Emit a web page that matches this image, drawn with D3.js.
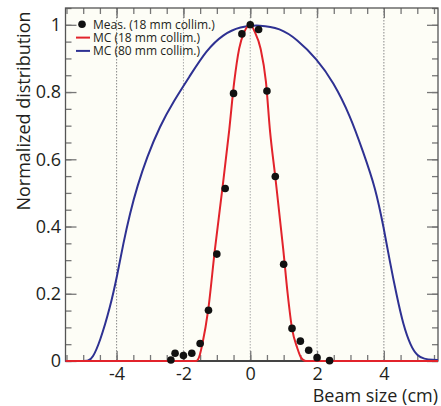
<!DOCTYPE html>
<html><head><meta charset="utf-8">
<script src="https://cdn.jsdelivr.net/npm/d3@7"></script>
<style>body{margin:0;background:#fff} svg{display:block}</style>
</head><body>
<svg id="c" width="441" height="406"></svg>
<script>
// Measured points (18 mm collimator)
const measX = [-2.375, -2.25, -2, -1.75, -1.5, -1.25, -1, -0.75, -0.5, -0.25, 0, 0.25, 0.5, 0.75, 1, 1.25, 1.5, 1.75, 2, 2.375];
const measY = [0.003, 0.023, 0.016, 0.023, 0.052, 0.151, 0.318, 0.513, 0.796, 0.973, 1.0, 0.986, 0.803, 0.549, 0.288, 0.097, 0.059, 0.032, 0.01, 0.001];
// MC 18 mm collimator (red)
const mc18X = [-5.53, -1.62, -1.52, -1.43, -1.26, -1.06, -0.85, -0.63, -0.48, -0.33, -0.18, 0, 0.14, 0.31, 0.47, 0.59, 0.75, 0.99, 1.12, 1.25, 1.41, 1.52, 1.66, 5.62];
const mc18Y = [0, 0, 0.015, 0.052, 0.151, 0.33, 0.5, 0.686, 0.83, 0.93, 0.978, 1.0, 0.978, 0.929, 0.83, 0.686, 0.547, 0.33, 0.2, 0.097, 0.038, 0.01, 0, 0];
// MC 80 mm collimator (blue)
const mc80X = [-5.53, -5.0, -4.85, -4.72, -4.5, -4.2, -3.98, -3.8, -3.6, -3.38, -3.1, -2.7, -2.3, -1.8, -1.31, -0.81, -0.31, 0.29, 0.89, 1.39, 1.99, 2.49, 2.99, 3.38, 3.75, 4.0, 4.18, 4.38, 4.58, 4.8, 5.0, 5.2, 5.48, 5.62];
const mc80Y = [0, 0, 0, 0.008, 0.057, 0.157, 0.255, 0.35, 0.44, 0.52, 0.605, 0.70, 0.772, 0.849, 0.925, 0.972, 0.995, 1.0, 0.99, 0.958, 0.899, 0.83, 0.73, 0.622, 0.515, 0.394, 0.295, 0.196, 0.107, 0.045, 0.015, 0.006, 0.003, 0.003];
// Ticks
const xTicks = [-4, -2, 0, 2, 4];
const xTickLabels = ["-4", "-2", "0", "2", "4"];
const yTicks = [0, 0.2, 0.4, 0.6, 0.8, 1];
const yTickLabels = ["0", "0.2", "0.4", "0.6", "0.8", "1"];
const legendLabels = ["Meas. (18 mm collim.)", "MC (18 mm collim.)", "MC (80 mm collim.)"];

const RED = "#e2232b", BLUE = "#2e3192", TXT = "#231f20";
const m = {l: 65.5, r: 438, t: 8, b: 361};
const svg = d3.select("#c");
const x = d3.scaleLinear().domain([-5.53, 5.62]).range([m.l, m.r]);
const y = d3.scaleLinear().domain([0, 1.05]).range([m.b, m.t]);
const font = "'Open Sans', sans-serif";

svg.append("rect").attr("x", m.l).attr("y", m.t).attr("width", m.r - m.l).attr("height", m.b - m.t).attr("fill", "#fdfdf6");

// grid
svg.append("g").selectAll("line").data(xTicks).join("line")
  .attr("x1", d => x(d)).attr("x2", d => x(d)).attr("y1", m.t).attr("y2", m.b)
  .attr("stroke", d => Math.abs(d) === 4 ? "#888" : "#aaa").attr("stroke-width", 1).attr("stroke-dasharray", "1.5,1.5");

const minorX = d3.range(-5.5, 5.51, 0.5);
const minorY = d3.range(0, 1.051, 0.05);
function styleAxis(g) {
  g.select(".domain").remove();
  g.selectAll(".tick line").attr("stroke", "#777").attr("stroke-width", 1.3);
  g.selectAll("text").attr("fill", TXT).style("font-family", font).style("font-size", "18px");
}
// bottom
svg.append("g").attr("transform", `translate(0,${m.b})`).call(d3.axisBottom(x).tickValues(minorX).tickSize(-6).tickFormat("")).call(styleAxis);
svg.append("g").attr("transform", `translate(0,${m.b})`).call(d3.axisBottom(x).tickValues(xTicks).tickSize(-10).tickPadding(6).tickFormat((d, i) => xTickLabels[i])).call(styleAxis);
// top
svg.append("g").attr("transform", `translate(0,${m.t})`).call(d3.axisTop(x).tickValues(minorX).tickSize(-6).tickFormat("")).call(styleAxis);
svg.append("g").attr("transform", `translate(0,${m.t})`).call(d3.axisTop(x).tickValues(xTicks).tickSize(-10).tickFormat("")).call(styleAxis);
// left
svg.append("g").attr("transform", `translate(${m.l},0)`).call(d3.axisLeft(y).tickValues(minorY).tickSize(-6).tickFormat("")).call(styleAxis);
svg.append("g").attr("transform", `translate(${m.l},0)`).call(d3.axisLeft(y).tickValues(yTicks).tickSize(-11).tickPadding(4.5).tickFormat((d, i) => yTickLabels[i])).call(styleAxis);
// right
svg.append("g").attr("transform", `translate(${m.r},0)`).call(d3.axisRight(y).tickValues(minorY).tickSize(-6).tickFormat("")).call(styleAxis);
svg.append("g").attr("transform", `translate(${m.r},0)`).call(d3.axisRight(y).tickValues(yTicks).tickSize(-11).tickFormat("")).call(styleAxis);

// frame
svg.append("rect").attr("x", m.l).attr("y", m.t).attr("width", m.r - m.l).attr("height", m.b - m.t)
  .attr("fill", "none").attr("stroke", "#555").attr("stroke-width", 1.3);
svg.append("line").attr("x1", m.l).attr("x2", m.r).attr("y1", m.b).attr("y2", m.b).attr("stroke", "#444").attr("stroke-width", 2);

// curves
const lineBlue = d3.line().x(d => x(d[0])).y(d => y(d[1])).curve(d3.curveBasis);
const lineRed = d3.line().x(d => x(d[0])).y(d => y(d[1])).curve(d3.curveMonotoneX);
svg.append("path").datum(d3.zip(mc80X, mc80Y)).attr("d", lineBlue).attr("fill", "none").attr("stroke", BLUE).attr("stroke-width", 2);
svg.append("path").datum(d3.zip(mc18X, mc18Y)).attr("d", lineRed).attr("fill", "none").attr("stroke", RED).attr("stroke-width", 2);

// points
svg.append("g").selectAll("circle").data(d3.zip(measX, measY)).join("circle")
  .attr("cx", d => x(d[0])).attr("cy", d => y(d[1])).attr("r", 3.8).attr("fill", "#111");

// legend
const lg = svg.append("g");
const rowY = [24.3, 37.6, 50.9];
lg.append("circle").attr("cx", 82).attr("cy", rowY[0]).attr("r", 3.8).attr("fill", "#111");
lg.append("line").attr("x1", 76).attr("x2", 90).attr("y1", rowY[1]).attr("y2", rowY[1]).attr("stroke", RED).attr("stroke-width", 2);
lg.append("line").attr("x1", 76).attr("x2", 90).attr("y1", rowY[2]).attr("y2", rowY[2]).attr("stroke", BLUE).attr("stroke-width", 2);
lg.selectAll("text").data(legendLabels).join("text")
  .attr("x", 93).attr("y", (d, i) => rowY[i]).attr("dy", "0.36em")
  .attr("fill", TXT).style("font-family", font).style("font-size", "12px").text(d => d);

// axis titles
svg.append("text").attr("x", m.r).attr("y", 402).attr("text-anchor", "end")
  .attr("fill", TXT).style("font-family", font).style("font-size", "18px").text("Beam size (cm)");
svg.append("text").attr("transform", "translate(30,111) rotate(-90)").attr("text-anchor", "middle")
  .attr("fill", TXT).style("font-family", font).style("font-size", "18px").text("Normalized distribution");
</script>
</body></html>
